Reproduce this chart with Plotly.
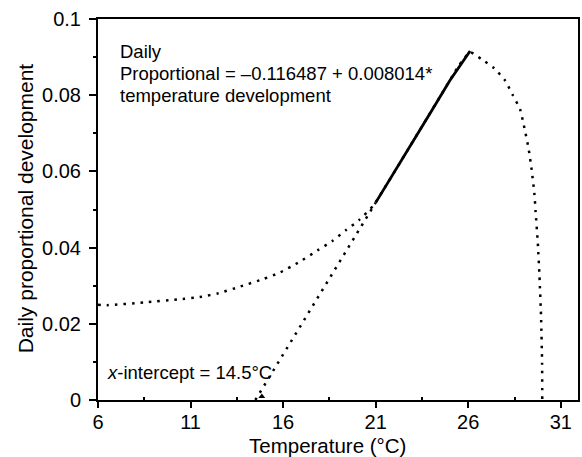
import plotly.graph_objects as go

# Model curve (temperature, daily proportional development)
curve_t = [6.0, 6.5, 8.5, 10.3, 11.6, 12.5, 13.7, 14.9, 15.8, 16.9, 17.9, 18.65, 19.4, 20.1, 20.9,
           21.5, 22.5, 23.5, 24.5, 25.5, 26.1,
           26.7, 27.4, 28.0, 28.4, 28.8, 29.0, 29.26, 29.44, 29.58, 29.64, 29.76, 29.85, 29.94, 29.99, 30.0]
curve_v = [0.0250, 0.0249, 0.0256, 0.0264, 0.0271, 0.0280, 0.0298, 0.0317, 0.0334, 0.0363, 0.0394, 0.0417, 0.0446, 0.0472, 0.0512,
           0.0558, 0.0638, 0.0718, 0.0798, 0.0878, 0.0913,
           0.0895, 0.0871, 0.0838, 0.0801, 0.0763, 0.0722, 0.0660, 0.0599, 0.0538, 0.0494, 0.0411, 0.0324, 0.0210, 0.0096, 0.0]

# Linear regression: Daily proportional development = -0.116487 + 0.008014 * temperature
reg_t = [14.5, 21.0]
reg_v = [0.0, 0.0518]

# Observed (dense data) segment along the regression line
obs_t = [21.0, 22.0, 23.0, 24.0, 25.0, 26.1]
obs_v = [0.0518, 0.0597, 0.0678, 0.0757, 0.0838, 0.0916]

# Point at the x-intercept
icp_t = [14.85]
icp_v = [0.0009]

x_ticks = [6, 11, 16, 21, 26, 31]
y_ticks = [0, 0.02, 0.04, 0.06, 0.08, 0.1]
y_tick_text = ["0", "0.02", "0.04", "0.06", "0.08", "0.1"]

FONT = "Liberation Sans, Arial, sans-serif"
dotted = "2.5px,6px"

fig = go.Figure()
fig.add_trace(go.Scatter(x=curve_t, y=curve_v, mode="lines",
                         line=dict(color="black", width=2.5, dash=dotted, shape="spline", smoothing=0.5),
                         hoverinfo="skip", showlegend=False))
fig.add_trace(go.Scatter(x=reg_t, y=reg_v, mode="lines",
                         line=dict(color="black", width=2.5, dash=dotted),
                         hoverinfo="skip", showlegend=False))
fig.add_trace(go.Scatter(x=obs_t, y=obs_v, mode="lines",
                         line=dict(color="black", width=2.8),
                         hoverinfo="skip", showlegend=False))
fig.add_trace(go.Scatter(x=icp_t, y=icp_v, mode="markers",
                         marker=dict(color="black", size=6, symbol="triangle-up"),
                         hoverinfo="skip", showlegend=False))

fig.update_layout(
    width=582, height=457,
    margin=dict(l=98, r=2, t=19, b=57),
    paper_bgcolor="white", plot_bgcolor="white",
    font=dict(family=FONT, size=18, color="black"),
    showlegend=False,
)
fig.update_xaxes(
    range=[6, 31.93], tickvals=x_ticks, ticks="outside", ticklen=6, tickwidth=2,
    tickcolor="black", showline=True, linewidth=2, linecolor="black", mirror=True,
    showgrid=False, zeroline=False, ticklabelstandoff=-3,
    tickfont=dict(size=20),
    minor=dict(tickvals=[8.5, 13.5, 18.5, 23.5, 28.5], ticks="inside", ticklen=3, tickwidth=2, tickcolor="black"),
)
fig.update_yaxes(
    range=[0, 0.1], tickvals=y_ticks, ticktext=y_tick_text, ticks="outside", ticklen=7, tickwidth=2,
    tickcolor="black", showline=True, linewidth=2, linecolor="black", mirror=True,
    showgrid=False, zeroline=False, ticklabelstandoff=4,
    tickfont=dict(size=20),
    minor=dict(tickvals=[0.01, 0.03, 0.05, 0.07, 0.09], ticks="outside", ticklen=3, tickwidth=2, tickcolor="black"),
)

ann = [
    dict(text="Daily", x=0.0415, y=0.916),
    dict(text="Proportional = \u20130.116487 + 0.008014*", x=0.0415, y=0.856),
    dict(text="temperature development", x=0.0415, y=0.798),
    dict(text="<i>x</i>-intercept = 14.5\u00b0C", x=0.0145, y=0.0709),
]
for a in ann:
    fig.add_annotation(xref="paper", yref="paper", xanchor="left", yanchor="middle",
                       showarrow=False, font=dict(size=18.5), **a)

# Axis titles
fig.add_annotation(text="Temperature (\u00b0C)", xref="paper", yref="paper",
                   x=(328 - 98) / 482, y=-(445 - 400) / 381, xanchor="center", yanchor="middle",
                   showarrow=False, font=dict(size=20.5))
fig.add_annotation(text="Daily proportional development", xref="paper", yref="paper",
                   x=-(98 - 25) / 482, y=(400 - 208) / 381, xanchor="center", yanchor="middle",
                   textangle=-90, showarrow=False, font=dict(size=21))

fig.write_html("out.html")
